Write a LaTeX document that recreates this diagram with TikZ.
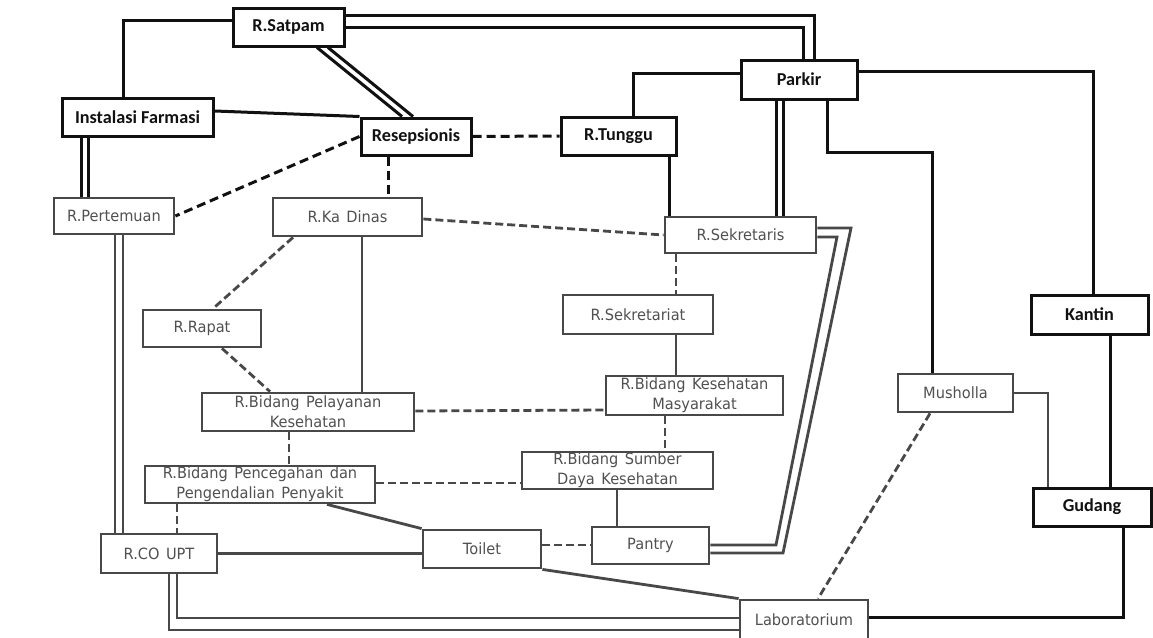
\documentclass[tikz,border=0pt]{standalone}
\usepackage{fontspec}
\newfontfamily\upf{Carlito}
\newfontfamily\lof{DejaVu Sans}[FakeStretch=0.94, WordSpace=1.4]
\definecolor{ink}{HTML}{111111}
\definecolor{gink}{HTML}{484848}
\definecolor{gtext}{HTML}{505050}
\begin{document}
\begin{tikzpicture}[x=1pt,y=-1pt,
 up/.style={draw=ink, line width=3pt, inner sep=0pt, font=\upf\bfseries\fontsize{18.2}{20}\selectfont, text=ink},
 lo/.style={draw=gink, line width=2.8pt, inner sep=0pt, align=center, font=\lof\fontsize{15.5}{20}\selectfont, text=gtext},
 bl/.style={draw=ink, line width=3pt},
 bld/.style={bl, dash pattern=on 9pt off 5pt},
 gl/.style={draw=gink, line width=2.8pt},
 gd/.style={gl, dash pattern=on 8pt off 4pt},
]
\useasboundingbox (0,0) rectangle (1153,637);

% upper nodes
\node[up, minimum width=111, minimum height=38] (satpam) at (288.5,27) {R.Satpam};
\node[up, minimum width=151, minimum height=38] (farmasi) at (137.5,117) {Instalasi Farmasi};
\node[up, minimum width=110, minimum height=37] (resep) at (416,136.5) {Resepsionis};
\node[up, minimum width=115, minimum height=38] (tunggu) at (618.5,136) {R.Tunggu};
\node[up, minimum width=116, minimum height=39] (parkir) at (799,79.5) {Parkir};
\node[up, minimum width=117, minimum height=39] (kantin) at (1089.5,314.5) {Kantin};
\node[up, minimum width=118, minimum height=38] (gudang) at (1092,507) {Gudang};

% lower nodes
\node[lo, minimum width=120, minimum height=36] (pertemuan) at (114,216) {R.Pertemuan};
\node[lo, minimum width=149, minimum height=38] (kadinas) at (347.5,217) {R.Ka Dinas};
\node[lo, minimum width=151, minimum height=36] (sekretaris) at (740.5,235) {R.Sekretaris};
\node[lo, minimum width=118, minimum height=37] (rapat) at (202,328.5) {R.Rapat};
\node[lo, minimum width=150, minimum height=39] (sekretariat) at (638,314.5) {R.Sekretariat};
\node[lo, minimum width=177, minimum height=39] (kesmas) at (694.5,395.5) {R.Bidang Kesehatan\\Masyarakat};
\node[lo, minimum width=212, minimum height=38] (pelayanan) at (308,412) {R.Bidang Pelayanan\\Kesehatan};
\node[lo, minimum width=115, minimum height=38] (musholla) at (955.5,393) {Musholla};
\node[lo, minimum width=230, minimum height=37] (pencegahan) at (260,484.5) {R.Bidang Pencegahan dan\\Pengendalian Penyakit};
\node[lo, minimum width=191, minimum height=37] (sdk) at (617.5,470.5) {R.Bidang Sumber\\Daya Kesehatan};
\node[lo, minimum width=116, minimum height=39] (coupt) at (159,553.5) {R.CO UPT};
\node[lo, minimum width=118, minimum height=38] (toilet) at (482,549) {Toilet};
\node[lo, minimum width=117, minimum height=37] (pantry) at (650.5,545.5) {Pantry};
\node[lo, minimum width=128, minimum height=40] (lab) at (804,620) {Laboratorium};

% upper connectors
\draw[bl] (satpam.west |- 0,20) -| (farmasi.north -| 123,0);
\draw[bl] (satpam.east |- 0,15) -| (parkir.north -| 814,0);
\draw[bl] (satpam.east |- 0,27) -| (parkir.north -| 803,0);
\draw[bl] (satpam.south -| 317,0) -- (resep.north -| 402,0);
\draw[bl] (satpam.south -| 328,0) -- (resep.north -| 413,0);
\draw[bl] (farmasi.east |- 0,111) -- (resep.north west);
\draw[bl] (farmasi.south -| 81,0) -- (pertemuan.north -| 81,0);
\draw[bl] (farmasi.south -| 88,0) -- (pertemuan.north -| 88,0);
\draw[bld] (resep.west) -- (pertemuan.east);
\draw[bld] (resep.south -| 388,0) -- (kadinas.north -| 388,0);
\draw[bld] (resep.east) -- (tunggu.west);
\draw[bl] (tunggu.north -| 633,0) |- (parkir.west |- 0,73);
\draw[bl] (tunggu.south -| 669,0) -- (sekretaris.north -| 669,0);
\draw[bl] (parkir.south -| 776,0) -- (sekretaris.north -| 776,0);
\draw[bl] (parkir.south -| 783,0) -- (sekretaris.north -| 783,0);
\draw[bl] (parkir.south -| 827,0) |- (932.5,152) -- (musholla.north -| 932.5,0);
\draw[bl] (parkir.east |- 0,71) -| (kantin.north -| 1093,0);
\draw[bl] (kantin.south -| 1110,0) -- (gudang.north -| 1110,0);
\draw[bl] (gudang.south -| 1123,0) |- (lab.east |- 0,617);
\draw[gl] (musholla.east) -| (gudang.north -| 1048,0);
\draw[gd] (musholla.south -| 930,0) -- (lab.north -| 818,0);

% lower connectors
\draw[gd] (kadinas.east |- 0,219) -- (sekretaris.west |- 0,235);
\draw[gd] (kadinas.south -| 293,0) -- (rapat.north -| 213,0);
\draw[gl] (kadinas.south -| 362,0) -- (pelayanan.north -| 362,0);
\draw[gd] (rapat.south -| 222,0) -- (pelayanan.north -| 270,0);
\draw[gd] (sekretaris.south -| 676,0) -- (sekretariat.north -| 676,0);
\draw[gl] (sekretariat.south -| 676,0) -- (kesmas.north -| 676,0);
\draw[gd] (pelayanan.east |- 0,411) -- (kesmas.west |- 0,410);
\draw[gd] (kesmas.south -| 665,0) -- (sdk.north -| 665,0);
\draw[gd] (pelayanan.south -| 289,0) -- (pencegahan.north -| 289,0);
\draw[gd] (pencegahan.east |- 0,483) -- (sdk.west |- 0,483);
\draw[gl] (sdk.south -| 617,0) -- (pantry.north -| 617,0);
\draw[gl] (pencegahan.south -| 327,0) -- (toilet.north west);
\draw[gd] (pencegahan.south -| 177,0) -- (coupt.north -| 177,0);
\draw[gl] (pertemuan.south -| 115,0) -- (coupt.north -| 115,0);
\draw[gl] (pertemuan.south -| 123,0) -- (coupt.north -| 123,0);
\draw[gl] (coupt.east) -- (coupt.east -| toilet.west);
\draw[gl] (coupt.south -| 177,0) |- (lab.west |- 0,618);
\draw[gl] (coupt.south -| 169,0) |- (lab.west |- 0,630);
\draw[gd] (toilet.east |- 0,545) -- (pantry.west |- 0,545);
\draw[gl] (toilet.south east) -- (lab.north west);
\draw[gl] (pantry.east |- 0,545) -- (776,545) -- (837,237) -- (sekretaris.east |- 0,237);
\draw[gl] (pantry.east |- 0,553) -- (783,553) -- (851,228) -- (sekretaris.east |- 0,228);
\end{tikzpicture}
\end{document}
